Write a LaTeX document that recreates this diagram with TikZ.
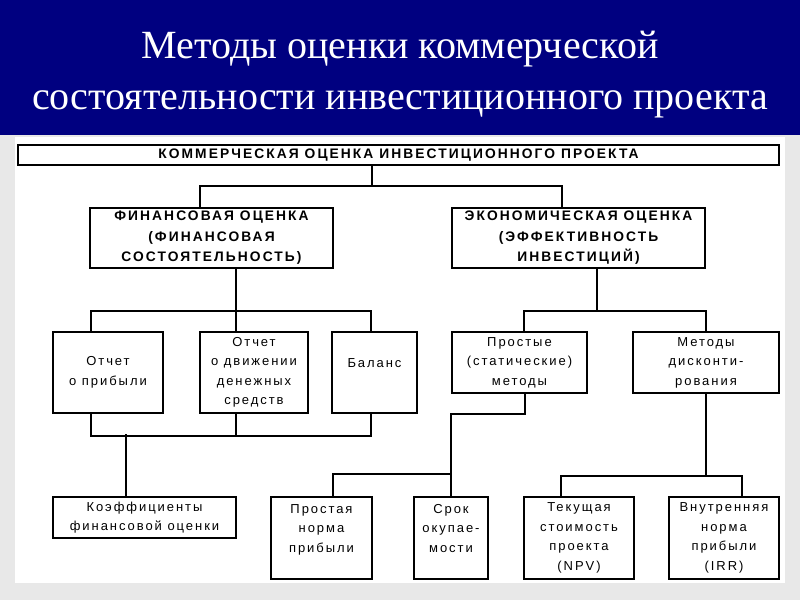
\documentclass[tikz,border=0pt]{standalone}
\usepackage{fontspec}
\setmainfont{Liberation Serif}
\newfontfamily\boxfont[LetterSpace=15]{Liberation Sans}
\usepackage{xcolor}
\definecolor{titleblue}{HTML}{000080}
\definecolor{pagegray}{HTML}{E8E8E8}
\usetikzlibrary{positioning,calc}

\tikzset{
    box/.style={draw, line width=1.8pt, fill=white, align=center, inner sep=0pt,
        font=\boxfont\fontsize{13}{19.5}\selectfont},
    headbox/.style={box, font=\boxfont\bfseries\fontsize{13.8}{20.5}\selectfont},
    wire/.style={line width=2pt},
}

\begin{document}
\begin{tikzpicture}[x=1pt,y=-1pt]
    \useasboundingbox (0,0) rectangle (800,600);
    % Background
    \fill[pagegray] (0,0) rectangle (800,600);
    \fill[titleblue] (0,0) rectangle (800,135);
    \fill[white] (15,137) rectangle (785,583);

    % Title
    \node[text=white, align=center, font=\fontsize{40}{51}\selectfont] (title) at (400,75)
        {Методы оценки коммерческой\\состоятельности инвестиционного проекта};

    % Level 0
    \node[headbox, minimum width=761pt, minimum height=20pt] (top) at (398.5,155)
        {КОММЕРЧЕСКАЯ ОЦЕНКА ИНВЕСТИЦИОННОГО ПРОЕКТА};

    % Level 1
    \node[headbox, minimum width=243pt, minimum height=60pt] (fin) at (211.5,238)
        {ФИНАНСОВАЯ ОЦЕНКА\\(ФИНАНСОВАЯ\\СОСТОЯТЕЛЬНОСТЬ)};
    \node[headbox, minimum width=253pt, minimum height=60pt] (eco) at (578.5,238)
        {ЭКОНОМИЧЕСКАЯ ОЦЕНКА\\(ЭФФЕКТИВНОСТЬ\\ИНВЕСТИЦИЙ)};

    % Level 2
    \node[box, minimum width=110pt, minimum height=81pt] (profit) at (108,372.5) {Отчет\\о прибыли};
    \node[box, minimum width=108pt, minimum height=81pt] (cash) at (254,372.5)
        {Отчет\\о движении\\денежных\\средств};
    \node[box, minimum width=85pt, minimum height=81pt] (bal) at (374.5,372.5) {Баланс\\~};
    \node[box, minimum width=135pt, minimum height=61pt] (simple) at (519.5,362.5)
        {Простые\\(статические)\\методы};
    \node[box, minimum width=146pt, minimum height=61pt] (disc) at (706,362.5)
        {Методы\\дисконти-\\рования};

    % Level 3
    \node[box, minimum width=183pt, minimum height=41pt] (coef) at (144.5,517.5)
        {Коэффициенты\\финансовой оценки};
    \node[box, minimum width=101pt, minimum height=82pt] (arr) at (321.5,538) {Простая\\норма\\прибыли\\~};
    \node[box, minimum width=74pt, minimum height=82pt] (pay) at (451,538) {Срок\\окупае-\\мости\\~};
    \node[box, minimum width=110pt, minimum height=82pt] (npv) at (579,538)
        {Текущая\\стоимость\\проекта\\(NPV)};
    \node[box, minimum width=110pt, minimum height=82pt] (irr) at (724,538)
        {Внутренняя\\норма\\прибыли\\(IRR)};

    % top -> level 1
    \draw[wire] ([xshift=-26.5pt]top.south) -- ++(0,20) coordinate (j0);
    \draw[wire] ([xshift=-11.5pt]fin.north) |- (j0) -| ([xshift=-16.5pt]eco.north);

    % financial -> reports
    \draw[wire] ([xshift=24.5pt]fin.south) -- ++(0,42) coordinate (j1);
    \draw[wire] ([xshift=-17pt]profit.north) |- (j1) -| ([xshift=-3.5pt]bal.north);
    \draw[wire] (j1) -- ([xshift=-18pt]cash.north);

    % reports -> coefficients
    \draw[wire] ([xshift=-17pt]profit.south) -- ++(0,22) -| ([xshift=-3.5pt]bal.south);
    \draw[wire] ([xshift=-18pt]cash.south) -- ++(0,22);
    \draw[wire] ([xshift=-18.5pt]coef.north) -- ++(0,-62);

    % economic -> methods
    \draw[wire] ([xshift=18.5pt]eco.south) -- ++(0,42) coordinate (j3);
    \draw[wire] ([xshift=4.5pt]simple.north) |- (j3) -| (disc.north);

    % simple methods
    \draw[wire] ([xshift=5.5pt]simple.south) -- ++(0,20) -| (pay.north);
    \draw[wire] ([xshift=11.5pt]arr.north) -- ++(0,-22) -| (pay.north);

    % discounting
    \draw[wire] (disc.south) -- ++(0,82) coordinate (j4);
    \draw[wire] ([xshift=-18pt]npv.north) |- (j4) -| ([xshift=18pt]irr.north);
\end{tikzpicture}
\end{document}
